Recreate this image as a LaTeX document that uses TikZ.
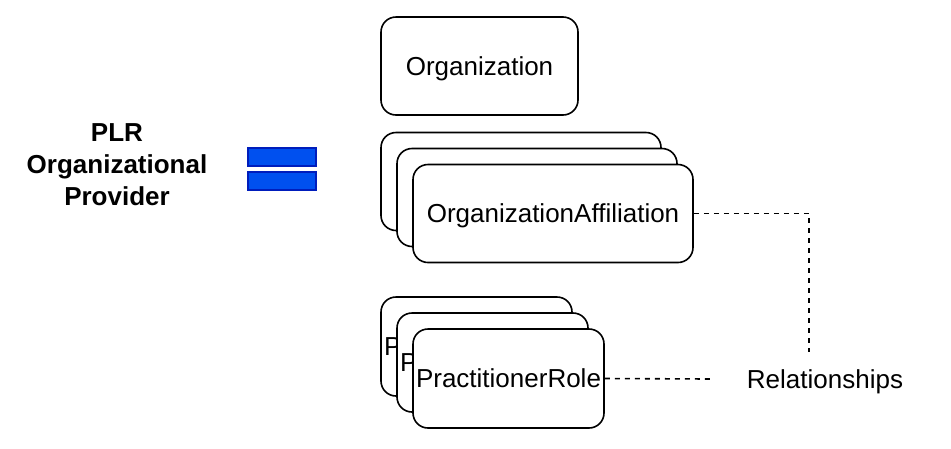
\documentclass[tikz,border=0pt]{standalone}
\usepackage{fontspec}
\setmainfont{Liberation Sans}
\usepackage{tikz}
\usetikzlibrary{arrows.meta}
\definecolor{eqfill}{HTML}{0050EF}
\definecolor{eqdraw}{HTML}{001DBC}

\begin{document}
\begin{tikzpicture}[
    x=1pt, y=-1pt,
    every node/.style={font=\fontsize{26}{32}\selectfont},
    res/.style={rectangle, draw=black, fill=white, line width=1.6pt,
        rounded corners=15pt, inner sep=0pt, text height=22pt, text depth=4pt},
    eqbar/.style={rectangle, draw=eqdraw, fill=eqfill,
        line width=1.4pt, minimum width=68pt, minimum height=18pt, inner sep=0pt},
    relline/.style={draw=black, line width=1.6pt, dash pattern=on 5pt off 5pt}
]
\useasboundingbox (0,0) rectangle (951,448);
\node[font=\bfseries\fontsize{26}{32}\selectfont, align=center]
    (plr) at (117,165) {PLR\\Organizational\\Provider};
\node[eqbar] (eqtop) at (282,157) {};
\node[eqbar] (eqbot) at (282,181) {};
\node[res, minimum width=197pt, minimum height=98pt]
    (org) at (479.5,66) {Organization};
\node[res, minimum width=280pt, minimum height=98pt]
    (oa3) at (521,181.5) {OrganizationAffiliation};
\node[res, minimum width=280pt, minimum height=98pt]
    (oa2) at (537,197.5) {OrganizationAffiliation};
\node[res, minimum width=280pt, minimum height=98pt]
    (oa1) at (553,213.5) {OrganizationAffiliation};
\node[res, minimum width=191pt, minimum height=99pt]
    (pr3) at (476.5,346.5) {PractitionerRole};
\node[res, minimum width=191pt, minimum height=99pt]
    (pr2) at (492.5,362.5) {PractitionerRole};
\node[res, minimum width=191pt, minimum height=99pt]
    (pr1) at (508.5,378.5) {PractitionerRole};
\node[minimum width=230pt, minimum height=54pt, inner sep=0pt,
      text height=22pt, text depth=4pt]
    (rel) at (825,379) {Relationships};
\draw[relline] (oa1.east) -| ([xshift=-16pt]rel.north);
\draw[relline] (pr1.east) -- (rel.west);
\end{tikzpicture}
\end{document}
